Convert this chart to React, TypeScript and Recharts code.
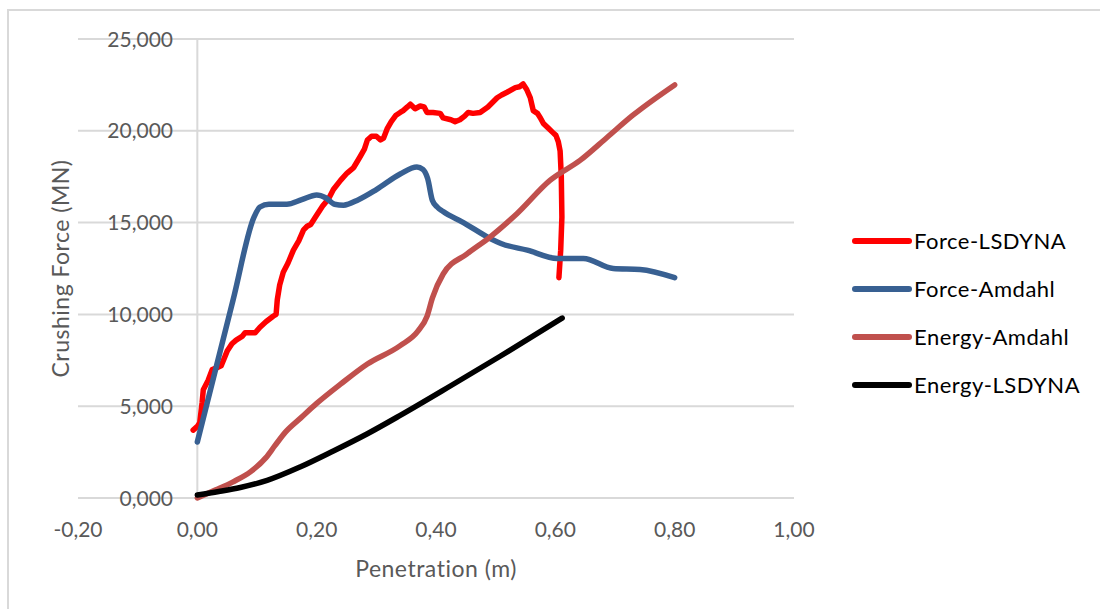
import React from 'react';
import {
  LineChart,
  Line,
  XAxis,
  YAxis,
  CartesianGrid,
  ReferenceLine,
  Legend,
} from 'recharts';

// Penetration (m) vs crushing force / energy, [x, y] pairs
const forceLsdyna: [number, number][] = [
  [-0.007, 3700], [0.0, 3900], [0.004, 4100], [0.008, 5200], [0.01, 5900],
  [0.018, 6400], [0.025, 7000], [0.033, 7100], [0.04, 7200], [0.05, 8000],
  [0.058, 8400], [0.065, 8600], [0.075, 8800], [0.08, 9000], [0.097, 9000],
  [0.105, 9300], [0.115, 9600], [0.127, 9900], [0.132, 10000], [0.134, 10800],
  [0.138, 11600], [0.144, 12300], [0.152, 12800], [0.161, 13500], [0.17, 14000],
  [0.178, 14600], [0.184, 14800], [0.19, 14900], [0.198, 15300], [0.21, 15900],
  [0.22, 16300], [0.228, 16800], [0.24, 17300], [0.251, 17700], [0.262, 18000],
  [0.273, 18600], [0.28, 19000], [0.285, 19500], [0.292, 19700], [0.3, 19700],
  [0.307, 19500], [0.312, 19600], [0.318, 20100], [0.325, 20500], [0.333, 20850],
  [0.34, 21000], [0.345, 21100], [0.352, 21300], [0.357, 21450], [0.365, 21200],
  [0.3735, 21350], [0.38, 21300], [0.385, 21000], [0.395, 21000], [0.407, 20950],
  [0.412, 20700], [0.425, 20600], [0.432, 20500], [0.44, 20600], [0.448, 20800],
  [0.454, 21000], [0.462, 20950], [0.474, 21000], [0.487, 21300], [0.5025, 21800],
  [0.51, 21950], [0.519, 22100], [0.533, 22350], [0.54, 22400], [0.546, 22550],
  [0.552, 22250], [0.558, 21800], [0.563, 21100], [0.57, 20950], [0.575, 20700],
  [0.58, 20400], [0.588, 20150], [0.596, 19900], [0.601, 19750], [0.605, 19400],
  [0.608, 18900], [0.61, 17500], [0.611, 15300], [0.609, 13500], [0.606, 12000],
];

const forceAmdahl: [number, number][] = [
  [0.0, 3050], [0.06, 10800], [0.095, 15300], [0.105, 15850], [0.12, 16000],
  [0.15, 16000], [0.175, 16250], [0.2, 16500], [0.215, 16350], [0.23, 16000],
  [0.245, 15950], [0.27, 16250], [0.3, 16800], [0.34, 17650], [0.368, 18030],
  [0.378, 17900], [0.386, 17400], [0.394, 16200], [0.402, 15850], [0.412, 15600],
  [0.446, 15000], [0.49, 14150], [0.51, 13850], [0.553, 13500], [0.603, 13050],
  [0.647, 13050], [0.697, 12500], [0.742, 12450], [0.8, 12000],
];

const energyAmdahl: [number, number][] = [
  [0.0, 0], [0.03, 430], [0.06, 880], [0.09, 1450], [0.115, 2200],
  [0.13, 2850], [0.148, 3600], [0.173, 4350], [0.2, 5150], [0.24, 6200],
  [0.285, 7300], [0.34, 8300], [0.37, 9100], [0.385, 9900], [0.394, 10900],
  [0.412, 12200], [0.452, 13300], [0.49, 14200], [0.536, 15500], [0.591, 17300],
  [0.642, 18400], [0.687, 19650], [0.73, 20850], [0.8, 22500],
];

const energyLsdyna: [number, number][] = [
  [0.0, 160], [0.036, 350], [0.072, 570], [0.117, 960], [0.173, 1700],
  [0.228, 2560], [0.285, 3500], [0.34, 4500], [0.424, 6100], [0.5075, 7720],
  [0.6114, 9800],
];

const xTicks = [-0.2, 0, 0.2, 0.4, 0.6, 0.8, 1.0];
const yTicks = [0, 5000, 10000, 15000, 20000, 25000];
const seriesNames = ['Force-LSDYNA', 'Force-Amdahl', 'Energy-Amdahl', 'Energy-LSDYNA'];
const seriesColors = ['#FF0000', '#386092', '#C0504D', '#000000'];

const FONT = 'Lato, "Open Sans", sans-serif';
const AXIS_TEXT = '#595959';
const GRID = '#d9d9d9';

const toPoints = (pairs: [number, number][]) => pairs.map(([x, y]) => ({ x, y }));

const fmtX = (v: number) => v.toFixed(2).replace('.', ',');
const fmtY = (v: number) => `${Math.floor(v / 1000)},${String(v % 1000).padStart(3, '0')}`;

const seriesData = [forceLsdyna, forceAmdahl, energyAmdahl, energyLsdyna];
const series = seriesNames.map((name, i) => ({
  name,
  color: seriesColors[i],
  data: toPoints(seriesData[i]),
  type: (i === 0 ? 'linear' : 'monotone') as 'linear' | 'monotone',
}));

const titleStyle = { fontVariantLigatures: 'none' as const, letterSpacing: '0.5px' };

// Y tick labels sit beside the vertical axis line at x = 0
const YTick = (props: any) => {
  const { x, y, payload } = props;
  return (
    <text x={x + 95} y={y} dy="0.36em" textAnchor="end" fill={AXIS_TEXT} fontSize={21} fontFamily={FONT}>
      {fmtY(payload.value)}
    </text>
  );
};

const YTitle = (props: any) => {
  const { viewBox } = props;
  const cx = viewBox.x + viewBox.width - 9;
  const cy = viewBox.y + viewBox.height / 2;
  return (
    <text
      x={cx}
      y={cy}
      transform={`rotate(-90 ${cx} ${cy})`}
      textAnchor="middle"
      fill={AXIS_TEXT}
      fontSize={23}
      fontFamily={FONT}
      style={titleStyle}
    >
      Crushing Force (MN)
    </text>
  );
};

const XTitle = (props: any) => {
  const { viewBox } = props;
  return (
    <text
      x={viewBox.x + viewBox.width / 2}
      y={viewBox.y + 79}
      textAnchor="middle"
      fill={AXIS_TEXT}
      fontSize={23}
      fontFamily={FONT}
      style={titleStyle}
    >
      Penetration (m)
    </text>
  );
};

const LegendContent = (props: any) => {
  const { payload } = props;
  const items = [...(payload || [])].sort(
    (a: any, b: any) => seriesNames.indexOf(a.value) - seriesNames.indexOf(b.value)
  );
  return (
    <div style={{ fontFamily: FONT }}>
      {items.map((entry: any) => (
        <div key={entry.value} style={{ display: 'flex', alignItems: 'center', height: 48 }}>
          <svg width={60} height={10} style={{ display: 'block' }}>
            <line x1={3} y1={5} x2={57} y2={5} stroke={entry.color} strokeWidth={6} strokeLinecap="round" />
          </svg>
          <span style={{ fontSize: 22, color: '#000', marginLeft: 2, lineHeight: '24px', letterSpacing: '0.5px' }}>
            {entry.value}
          </span>
        </div>
      ))}
    </div>
  );
};

export default function App() {
  return (
    <div style={{ position: 'absolute', left: 0, top: 0, width: 1100, height: 609, overflow: 'hidden', background: '#fff' }}>
      <div
        style={{
          position: 'absolute',
          left: 7,
          top: 9,
          width: 1100,
          height: 620,
          border: `2px solid ${GRID}`,
          boxSizing: 'border-box',
        }}
      />
      <div style={{ position: 'absolute', left: 0, top: 0 }}>
        <LineChart width={1100} height={609} margin={{ top: 39, right: 306, bottom: 8, left: 8 }}>
          <CartesianGrid horizontal vertical={false} stroke={GRID} strokeWidth={2} />
          <XAxis
            type="number"
            dataKey="x"
            domain={[-0.2, 1.0]}
            ticks={xTicks}
            tickFormatter={fmtX}
            axisLine={false}
            tickLine={false}
            tickSize={0}
            tickMargin={24}
            height={103}
            tick={{ fill: AXIS_TEXT, fontSize: 21, fontFamily: FONT }}
            allowDataOverflow
            interval={0}
            label={{ content: <XTitle /> }}
          />
          <YAxis
            type="number"
            domain={[0, 25000]}
            ticks={yTicks}
            axisLine={false}
            tickLine={false}
            tickSize={0}
            tickMargin={0}
            width={70}
            interval={0}
            tick={<YTick />}
            label={{ content: <YTitle /> }}
          />
          <ReferenceLine x={0} stroke={GRID} strokeWidth={2} />
          {series.map((s) => (
            <Line
              key={s.name}
              data={s.data}
              dataKey="y"
              name={s.name}
              type={s.type}
              stroke={s.color}
              strokeWidth={5.5}
              strokeLinecap="round"
              strokeLinejoin="round"
              dot={false}
              activeDot={false}
              isAnimationActive={false}
            />
          ))}
          <Legend
            layout="vertical"
            align="center"
            verticalAlign="middle"
            content={<LegendContent />}
            wrapperStyle={{ left: 852, top: 217, width: 'auto' }}
          />
        </LineChart>
      </div>
    </div>
  );
}
